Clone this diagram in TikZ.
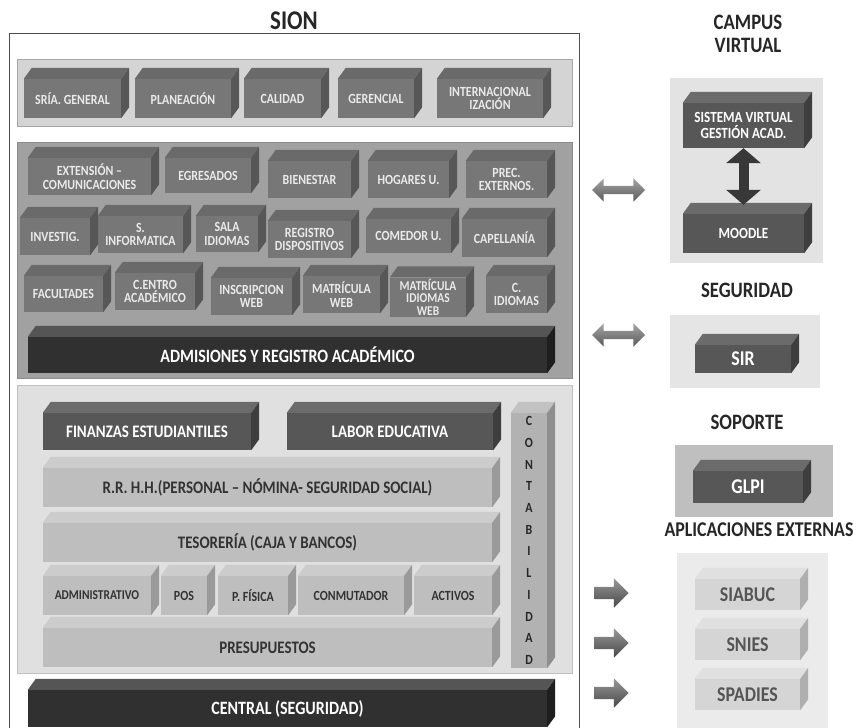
\documentclass[tikz,border=0pt]{standalone}
\usepackage{fontspec}
\setmainfont{Carlito}[FakeStretch=0.85]
\usetikzlibrary{arrows.meta,shapes.arrows}
\definecolor{gfront}{HTML}{777777}\definecolor{gtop}{HTML}{6A6A6A}\definecolor{gside}{HTML}{575757}\definecolor{gtext}{HTML}{EAEAEA}
\definecolor{dfront}{HTML}{303030}\definecolor{dtop}{HTML}{555555}\definecolor{dside}{HTML}{1E1E1E}
\definecolor{mfront}{HTML}{575757}\definecolor{mtop}{HTML}{6B6B6B}\definecolor{mside}{HTML}{3E3E3E}
\definecolor{lfront}{HTML}{BEBEBE}\definecolor{ltop}{HTML}{CCCCCC}\definecolor{lside}{HTML}{9A9A9A}\definecolor{ltext}{HTML}{333333}
\definecolor{cfront}{HTML}{B2B2B2}\definecolor{ctop}{HTML}{C2C2C2}\definecolor{cside}{HTML}{8E8E8E}
\definecolor{efront}{HTML}{D5D5D5}\definecolor{etop}{HTML}{E0E0E0}\definecolor{eside}{HTML}{AFAFAF}\definecolor{etext}{HTML}{555555}
% top and right faces of a box node
\newcommand{\cubefaces}[3]{%
  \fill[#2] (#1.north west) -- ++(8,-11) -- ([shift={(8,-11)}]#1.north east) -- (#1.north east) -- cycle;
  \fill[#3] (#1.north east) -- ++(8,-11) -- ([shift={(8,-11)}]#1.south east) -- (#1.south east) -- cycle;
}
\tikzset{sz/.style 2 args={minimum width=#1pt,minimum height=#2pt}}
\begin{document}
\begin{tikzpicture}[x=1pt,y=-1pt]
	\tikzstyle{every node}=[inner sep=1pt,align=center];
	\tikzstyle{gbox}=[fill=gfront,text=gtext,font=\fontsize{14}{13.5}\selectfont\bfseries];
	\tikzstyle{dbox}=[fill=dfront,text=white,font=\fontsize{18.8}{18}\selectfont\bfseries];
	\tikzstyle{mbox}=[fill=mfront,text=white,font=\fontsize{17.6}{17}\selectfont\bfseries];
	\tikzstyle{lbox}=[fill=lfront,text=ltext,font=\fontsize{17.6}{17}\selectfont\bfseries];
	\tikzstyle{ebox}=[fill=efront,text=etext,font=\fontsize{21}{21}\selectfont\bfseries];
	\tikzstyle{ttl}=[font=\fontsize{22}{23}\selectfont\bfseries,text=black!85];
	\tikzstyle{dbl}=[double arrow,inner sep=4pt,double arrow head extend=7.5pt,minimum height=53pt,top color=black!35,bottom color=black!65];
	\tikzstyle{sgl}=[single arrow,inner sep=6pt,single arrow head extend=8.5pt,minimum height=34pt,top color=black!40,bottom color=black!72];
	\useasboundingbox (0,0) rectangle (857,728);
	\fill[white] (0,0) rectangle (857,728);
	\draw[black!70,fill=white] (9,33) rectangle (579,729);
	\draw[black!35,fill=black!17] (17,59) rectangle (572,126);
	\draw[black!45,fill=black!37] (17,142) rectangle (572,378);
	\draw[black!25,fill=black!12] (17,385) rectangle (572,673);
	\fill[black!11] (670,78) rectangle (823,263);
	\fill[black!10] (670,315) rectangle (820,388);
	\fill[black!25] (675,445) rectangle (833,517);
	\fill[black!8] (677,553) rectangle (828,728);
	\node (sion) [ttl,font=\fontsize{27}{27}\selectfont\bfseries] at (294,21) {SION};
	\node (campus) [ttl] at (748,34) {CAMPUS\\VIRTUAL};
	\node (seguridad) [ttl] at (747,290) {SEGURIDAD};
	\node (soporte) [ttl] at (747,422) {SOPORTE};
	\node (externas) [ttl,font=\fontsize{21}{21}\selectfont\bfseries] at (759,530) {APLICACIONES EXTERNAS};
	\node (sria) [gbox,sz={97}{39}] at (72.5,98.5) {SRÍA. GENERAL};
	\node (plan) [gbox,sz={96}{39}] at (183,98.5) {PLANEACIÓN};
	\node (cal) [gbox,sz={77}{39}] at (282.5,98.5) {CALIDAD};
	\node (ger) [gbox,sz={76}{39}] at (376,98.5) {GERENCIAL};
	\node (intl) [gbox,sz={106}{39}] at (490,98.5) {INTERNACIONAL\\IZACIÓN};
	\node (ext) [gbox,sz={123}{37}] at (89.5,176.5) {EXTENSIÓN –\\COMUNICACIONES};
	\node (egr) [gbox,sz={86}{35}] at (208,175.5) {EGRESADOS};
	\node (bien) [gbox,sz={83}{37}] at (309.5,179.5) {BIENESTAR};
	\node (hog) [gbox,sz={81}{37}] at (408.5,179.5) {HOGARES U.};
	\node (prec) [gbox,sz={81}{37}] at (506.5,179.5) {PREC.\\EXTERNOS.};
	\node (inv) [gbox,sz={70}{37}] at (55,236.5) {INVESTIG.};
	\node (sinf) [gbox,sz={85}{37}] at (140.5,234.5) {S.\\INFORMATICA};
	\node (sala) [gbox,sz={62}{36}] at (227,234) {SALA\\IDIOMAS};
	\node (reg) [gbox,sz={83}{37}] at (309.5,239.5) {REGISTRO\\DISPOSITIVOS};
	\node (com) [gbox,sz={85}{34}] at (408.5,236) {COMEDOR U.};
	\node (cap) [gbox,sz={85}{38}] at (504.5,238) {CAPELLANÍA};
	\node (fac) [gbox,sz={79}{36}] at (63.5,294) {FACULTADES};
	\node (cen) [gbox,sz={80}{37}] at (155,291.5) {C.ENTRO\\ACADÉMICO};
	\node (insc) [gbox,sz={81}{37}] at (251.5,296.5) {INSCRIPCION\\WEB};
	\node (mweb) [gbox,sz={77}{37}] at (341.5,294.5) {MATRÍCULA\\WEB};
	\node (miw) [gbox,sz={76}{39},font=\fontsize{13.5}{12.5}\selectfont\bfseries] at (428,297) {MATRÍCULA\\IDIOMAS\\WEB};
	\node (cid) [gbox,sz={61}{37}] at (516.5,294.5) {C.\\IDIOMAS};
	\node (admis) [dbox,sz={519}{36}] at (287.5,355) {ADMISIONES Y REGISTRO ACADÉMICO};
	\node (fin) [mbox,sz={208}{37}] at (147,431.5) {FINANZAS ESTUDIANTILES};
	\node (lab) [mbox,sz={206}{37}] at (390,431.5) {LABOR EDUCATIVA};
	\node (contab) [lbox,fill=cfront,text=black!85,sz={36}{255},font=\fontsize{14}{21.7}\selectfont\bfseries] at (529,540.5) {C\\O\\N\\T\\A\\B\\I\\L\\I\\D\\A\\D};
	\node (rrhh) [lbox,sz={449}{39}] at (267.5,487.5) {R.R. H.H.(PERSONAL – NÓMINA- SEGURIDAD SOCIAL)};
	\node (teso) [lbox,sz={449}{39}] at (267.5,542.5) {TESORERÍA (CAJA Y BANCOS)};
	\node (adm) [lbox,sz={108}{39},font=\fontsize{13.5}{13}\selectfont\bfseries] at (97,595.5) {ADMINISTRATIVO};
	\node (pos) [lbox,sz={46}{39},font=\fontsize{14}{13}\selectfont\bfseries] at (184,595.5) {POS};
	\node (pfis) [lbox,sz={70}{39},font=\fontsize{14}{13}\selectfont\bfseries] at (253,595.5) {P. FÍSICA};
	\node (conm) [lbox,sz={106}{39},font=\fontsize{14}{13}\selectfont\bfseries] at (351,595.5) {CONMUTADOR};
	\node (act) [lbox,sz={78}{39},font=\fontsize{14}{13}\selectfont\bfseries] at (453,595.5) {ACTIVOS};
	\node (pres) [lbox,sz={449}{39}] at (267.5,647.5) {PRESUPUESTOS};
	\node (central) [dbox,sz={519}{37}] at (287.5,708.5) {CENTRAL (SEGURIDAD)};
	\node (sv) [mbox,sz={121}{45},font=\fontsize{15.5}{16}\selectfont\bfseries] at (743.5,125.5) {SISTEMA VIRTUAL\\GESTIÓN ACAD.};
	\node (moodle) [mbox,sz={121}{39},font=\fontsize{15.5}{16}\selectfont\bfseries] at (743.5,233.5) {MOODLE};
	\node (sir) [mbox,sz={96}{28},font=\fontsize{21}{21}\selectfont\bfseries] at (743,359) {SIR};
	\node (glpi) [mbox,sz={110}{32},font=\fontsize{21}{21}\selectfont\bfseries] at (748,487) {GLPI};
	\node (siabuc) [ebox,sz={105}{31}] at (747.5,594.5) {SIABUC};
	\node (snies) [ebox,sz={105}{31}] at (747.5,644.5) {SNIES};
	\node (spadies) [ebox,sz={105}{31}] at (747.5,694.5) {SPADIES};
	\foreach \n in {sria,plan,cal,ger,intl,ext,egr,bien,hog,prec,inv,sinf,sala,reg,com,cap,fac,cen,insc,mweb,miw,cid}
		\cubefaces{\n}{gtop}{gside};
	\foreach \n in {admis,central} \cubefaces{\n}{dtop}{dside};
	\foreach \n in {fin,lab,sv,moodle,sir,glpi} \cubefaces{\n}{mtop}{mside};
	\foreach \n in {rrhh,teso,adm,pos,pfis,conm,act,pres} \cubefaces{\n}{ltop}{lside};
	\cubefaces{contab}{ctop}{cside};
	\foreach \n in {siabuc,snies,spadies} \cubefaces{\n}{etop}{eside};
	\draw[line width=10pt,black!78,{Triangle[width=34pt,length=15pt]}-{Triangle[width=34pt,length=15pt]},shorten >=9pt] (sv.south) -- (moodle.north);
	\node (link1) [dbl] at (618.5,190) {};
	\node (link2) [dbl] at (618.5,335) {};
	\node (out1) [sgl] at (608.5,593) {};
	\node (out2) [sgl] at (608.5,643) {};
	\node (out3) [sgl] at (608.5,693) {};
\end{tikzpicture}
\end{document}
